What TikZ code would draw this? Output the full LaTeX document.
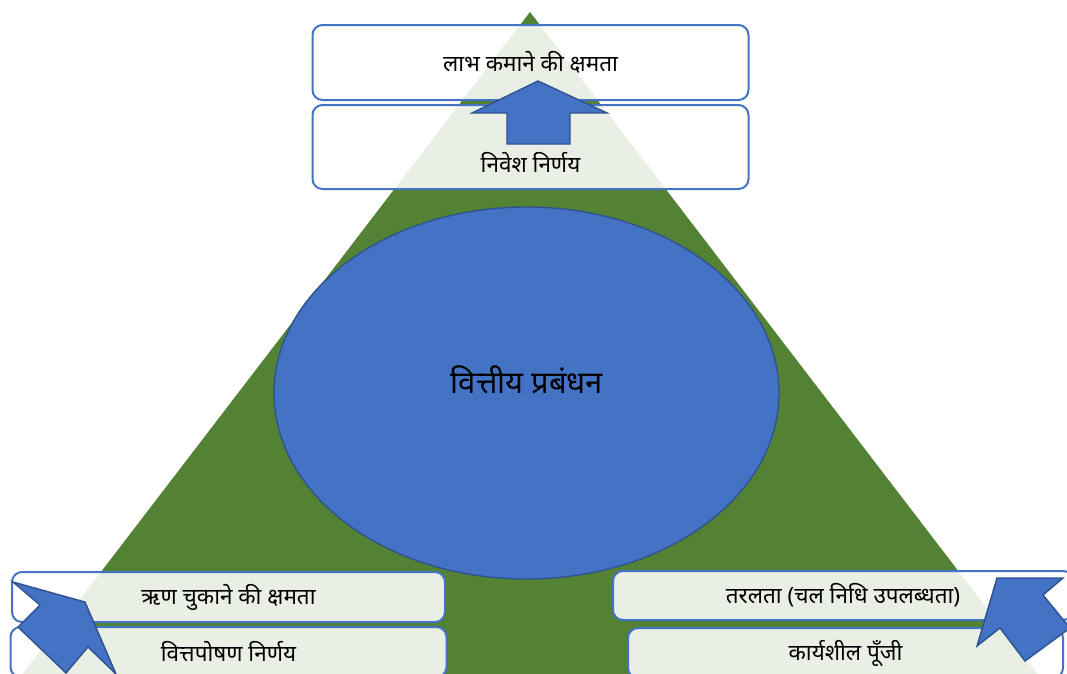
\documentclass[tikz,border=0pt]{standalone}
\usepackage{fontspec}
\newfontfamily\devfont[Script=Devanagari]{Noto Sans}
\usetikzlibrary{positioning}
\usetikzlibrary{shapes.geometric}
\definecolor{pyrgreen}{HTML}{548235}
\definecolor{ovalblue}{HTML}{4472C4}
\definecolor{edgeblue}{HTML}{2F528F}
\tikzstyle{fbox} = [rectangle, draw=ovalblue, line width=2pt, fill=white,
    fill opacity=0.88, text opacity=1, rounded corners=10pt, inner sep=0pt]
\tikzstyle{blockarrow} = [fill=ovalblue, draw=edgeblue, line width=1.4pt]

\begin{document}
\begin{tikzpicture}[x=1pt,y=-1pt,node distance=3pt,
                    font=\devfont\fontsize{22.5}{27}\selectfont]
  \useasboundingbox (0,0) rectangle (1067,673);
  \begin{scope}
  \clip (0,0) rectangle (1067,673);

  \fill[pyrgreen] (530,12) -- (1061,705) -- (-1,705) -- cycle;

  \node[ellipse, fill=ovalblue, draw=edgeblue, line width=1.4pt,
        minimum width=505pt, minimum height=372pt] (fm) at (526.5,393) {};
  \node[font=\devfont\fontsize{31}{37}\selectfont] (fmlbl) at (527,380) {वित्तीय प्रबंधन};

  \node[fbox, minimum width=436pt, minimum height=75pt] (profit) at (530.5,62.5) {लाभ कमाने की क्षमता};
  \node[fbox, minimum width=436pt, minimum height=84pt, below=of profit] (invest) {};
  \node (investlbl) at (530.5,162) {निवेश निर्णय};

  \node[fbox, minimum width=433pt, minimum height=50pt] (debt) at (228.5,597) {ऋण चुकाने की क्षमता};
  \node[fbox, minimum width=436pt, minimum height=50pt, below=of debt] (finance) {वित्तपोषण निर्णय};

  \node[fbox, minimum width=460pt, minimum height=49pt] (liquid) at (843,595.5) {तरलता (चल निधि उपलब्धता)};
  \node[fbox, minimum width=435pt, minimum height=50pt, below=6pt of liquid, xshift=2.5pt] (capital) {कार्यशील पूँजी};

  \draw[blockarrow] (538,81) -- (607,113) -- (570,113) -- (570,144)
    -- (507,144) -- (507,113) -- (472,113) -- cycle;
  \draw[blockarrow] (13,582) -- (85,602) -- (116,674) -- (88,647)
    -- (66,673) -- (18,627) -- (40,605) -- cycle;
  \draw[blockarrow] (997,578) -- (1063,578) -- (1043,595) -- (1070,628)
    -- (1025,661) -- (1000,628) -- (977,646) -- cycle;
  \end{scope}
\end{tikzpicture}
\end{document}
